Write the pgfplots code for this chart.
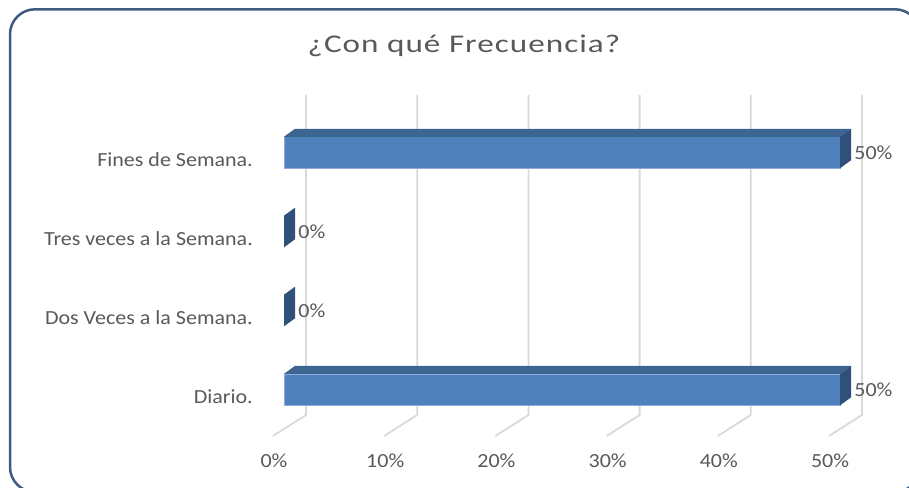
\documentclass[border=0pt]{standalone}
\usepackage{fontspec}
\usepackage{pgfplots}
\usepackage{pgfplotstable}
\pgfplotsset{compat=1.18}
\setmainfont{Carlito}
\newfontfamily\lblfont[FakeStretch=1.1]{Carlito}
\newfontfamily\titlefont[FakeStretch=1.3,LetterSpace=4]{Carlito}
\definecolor{front}{HTML}{4F81BD}
\definecolor{frontedge}{HTML}{8FAADC}
\definecolor{topc}{HTML}{3D6592}
\definecolor{sidec}{HTML}{2E5079}
\definecolor{gridc}{HTML}{D9D9D9}
\definecolor{txt}{HTML}{595959}
\definecolor{framec}{HTML}{3E5B7E}

\pgfplotstableread{
pos val
0 50
1 0
2 0
3 50
}\datatable

\begin{document}
\begin{tikzpicture}[x=1pt,y=1pt]
\useasboundingbox (0,0) rectangle (909,487);
\begin{axis}[
  at={(0,0)}, anchor=south west,
  scale only axis, width=909pt, height=487pt,
  xmin=-25.54, xmax=56.205, ymin=-1.2324, ymax=4.9297,
  axis line style={draw=none},
  tick style={draw=none},
  major tick length=0pt,
  clip=false,
  xtick={0,10,20,30,40,50},
  xticklabels={0\%,10\%,20\%,30\%,40\%,50\%},
  ytick={0,1,2,3},
  yticklabels={Diario.,Dos Veces a la Semana.,Tres veces a la Semana.,Fines de Semana.},
  tick label style={font=\lblfont\fontsize{20}{24}\selectfont, text=txt, inner sep=0pt},
  xticklabel style={anchor=base, yshift=19.5pt, xshift=-10pt},
  yticklabel style={anchor=base east, xshift=253pt, yshift=-14pt},
  /pgf/number format/assume math mode=true,
]
% back wall and floor grid lines
\pgfplotsinvokeforeach{0,10,20,30,40,50}{
  \pgfmathsetmacro\gxf{#1-0.99}
  \pgfmathsetmacro\gxb{#1+1.98}
  \addplot[gridc, line width=1.8pt, forget plot] coordinates {(\gxf,-0.587) (\gxb,-0.321) (\gxb,3.728)};
}
% front faces of the bars
\addplot[xbar, bar width=31.5pt, bar shift=0pt, fill=front, draw=frontedge, line width=0.7pt,
  point meta=x,
  nodes near coords={\pgfmathprintnumber{\pgfplotspointmeta}\%},
  every node near coord/.append style={anchor=base west, inner sep=0pt, xshift=14pt, yshift=-6.5pt,
    font=\lblfont\fontsize{20}{24}\selectfont, text=txt},
] table[x=val, y=pos] {\datatable};
% top and side faces (3-D depth)
\pgfplotsinvokeforeach{0,1,2,3}{
  \pgfplotstablegetelem{#1}{val}\of\datatable
  \pgfmathsetmacro\barv{\pgfplotsretval}
  \pgfmathsetmacro\barvb{\barv+0.99}
  \pgfmathsetmacro\yt{#1+0.1993}
  \pgfmathsetmacro\ytb{#1+0.3005}
  \pgfmathsetmacro\yb{#1-0.1993}
  \pgfmathsetmacro\ybb{#1-0.0981}
  \addplot[fill=topc, draw=none, forget plot] coordinates {(0,\yt) (\barv,\yt) (\barvb,\ytb) (0.99,\ytb)} -- cycle;
  \addplot[fill=sidec, draw=none, forget plot] coordinates {(\barv,\yt) (\barvb,\ytb) (\barvb,\ybb) (\barv,\yb)} -- cycle;
}
\end{axis}
\draw[framec, line width=2.5pt, rounded corners=25pt] (10,-5) rectangle (920,477.7);
\node[anchor=base, font=\titlefont\fontsize{25.5}{30}\selectfont, text=txt, inner sep=0pt] at (464,434) {¿Con qué Frecuencia?};
\end{tikzpicture}
\end{document}
